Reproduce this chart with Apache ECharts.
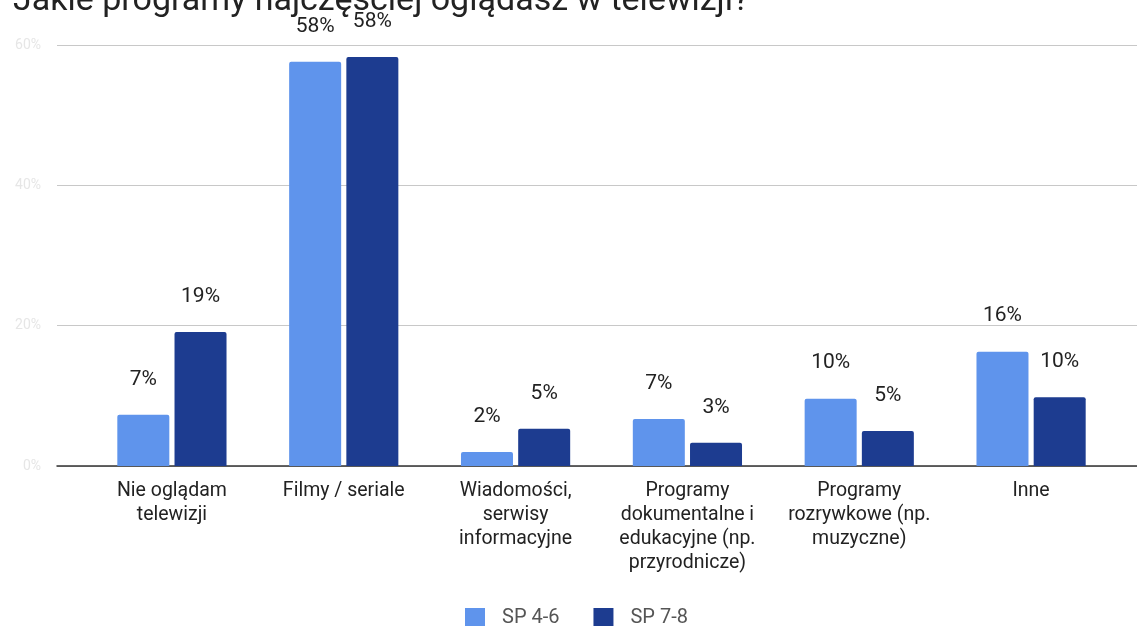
<!DOCTYPE html>
<html>
<head>
<meta charset="utf-8">
<script src="https://cdn.jsdelivr.net/npm/echarts@6/dist/echarts.min.js"></script>
<style>html,body{margin:0;padding:0;background:#fff;}#c{width:1137px;height:626px;}</style>
</head>
<body>
<div id="c"></div>
<script>
const titleText = 'Jakie programy najczęściej oglądasz w telewizji?';
const categories = [
  'Nie oglądam\ntelewizji',
  'Filmy / seriale',
  'Wiadomości,\nserwisy\ninformacyjne',
  'Programy\ndokumentalne i\nedukacyjne (np.\nprzyrodnicze)',
  'Programy\nrozrywkowe (np.\nmuzyczne)',
  'Inne'
];
const seriesNames = ['SP 4-6', 'SP 7-8'];
const sp46 = [7.3, 57.6, 2.0, 6.7, 9.6, 16.3];
const sp78 = [19.1, 58.3, 5.3, 3.3, 5.0, 9.8];
const yTicks = { min: 0, max: 60, interval: 20 };

const FONT = 'Roboto, "Noto Sans", sans-serif';
const chart = echarts.init(document.getElementById('c'), null, { renderer: 'canvas' });
const labelCfg = {
  show: true, position: 'top', distance: 25,
  fontFamily: FONT, fontSize: 21, color: '#222',
  formatter: p => Math.round(p.value) + '%'
};
chart.setOption({
  animation: false,
  backgroundColor: '#fff',
  title: {
    text: titleText, left: 8, top: -21,
    textStyle: { fontFamily: FONT, fontSize: 34, fontWeight: 'normal', color: '#222' }
  },
  legend: {
    data: seriesNames, left: 460, top: 603, icon: 'rect',
    itemWidth: 20, itemHeight: 20, itemGap: 34,
    textStyle: { fontFamily: FONT, fontSize: 20, color: '#555', padding: [0, 0, 0, 12] }
  },
  grid: [
    { left: 57, right: 0, top: 45, bottom: 160 },
    { left: 86, right: 20, top: 45, bottom: 160 }
  ],
  xAxis: [
    { type: 'value', gridIndex: 0, min: 0, max: 1,
      axisLine: { show: true, lineStyle: { color: '#333', width: 1.5 } },
      axisTick: { show: false }, axisLabel: { show: false }, splitLine: { show: false } },
    { type: 'category', gridIndex: 1, data: categories,
      axisLine: { show: false }, axisTick: { show: false },
      axisLabel: { fontFamily: FONT, fontSize: 19.5, color: '#222', lineHeight: 24, margin: 13, interval: 0 } }
  ],
  yAxis: [
    { type: 'value', gridIndex: 0, min: yTicks.min, max: yTicks.max, interval: yTicks.interval,
      axisLine: { show: false }, axisTick: { show: false },
      axisLabel: { formatter: '{value}%', fontFamily: FONT, fontSize: 14, color: '#e6e6e6', margin: 16 },
      splitLine: { lineStyle: { color: '#c8c8c8', width: 1 } } },
    { type: 'value', gridIndex: 1, min: yTicks.min, max: yTicks.max, interval: yTicks.interval, show: false }
  ],
  series: [
    { name: seriesNames[0], type: 'bar', xAxisIndex: 1, yAxisIndex: 1, data: sp46,
      barWidth: 52, barGap: '10%',
      itemStyle: { color: '#5f94ec', borderRadius: [2, 2, 0, 0] }, label: labelCfg, z: 3 },
    { name: seriesNames[1], type: 'bar', xAxisIndex: 1, yAxisIndex: 1, data: sp78,
      barWidth: 52, barGap: '10%',
      itemStyle: { color: '#1d3c90', borderRadius: [2, 2, 0, 0] }, label: labelCfg, z: 3 }
  ]
});
</script>
</body>
</html>
